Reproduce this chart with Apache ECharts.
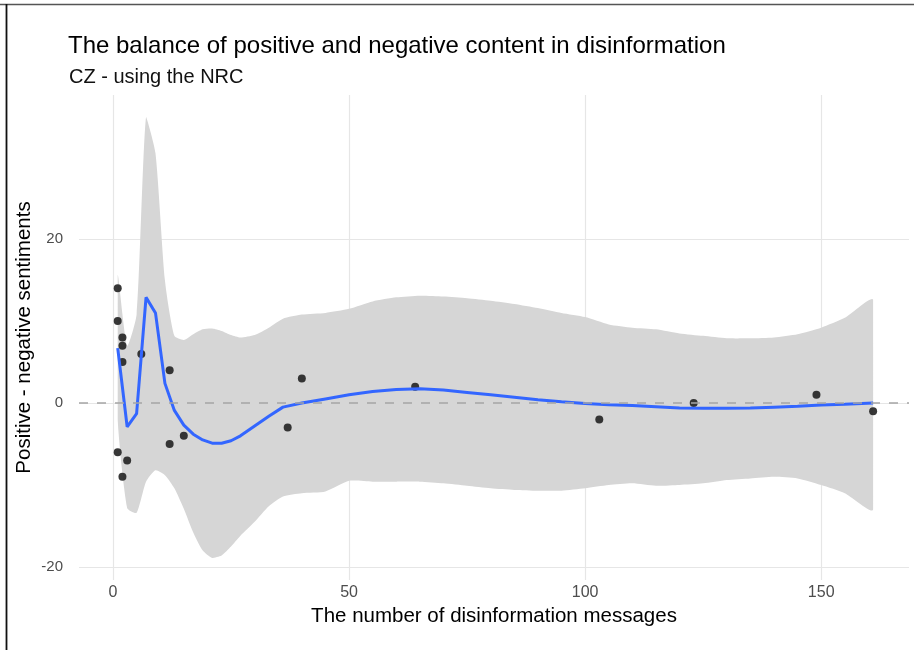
<!DOCTYPE html>
<html>
<head>
<meta charset="utf-8">
<script src="https://cdn.jsdelivr.net/npm/echarts@6/dist/echarts.min.js"></script>
<style>
  html, body { margin: 0; padding: 0; background: #fff; }
  #chart { width: 914px; height: 650px; }
</style>
</head>
<body>
<div id="chart"></div>
<script>
// observed messages: count vs positive - negative score
const pointsX = [1, 1, 2, 2, 2, 1, 3, 2, 6, 12, 12, 15, 37, 40, 64, 103, 123, 149, 161]
const pointsY = [14, 10, 8, 7, 5, -6, -7, -9, 6, 4, -5, -4, -3, 3, 2, -2, 0, 1, -1]

// loess fit and its band
const fitX = [1, 3, 5, 7, 9, 11, 13, 15, 17, 19, 21, 23, 25, 27, 30, 33, 36, 40, 45, 50,
  55, 60, 65, 70, 75, 80, 85, 90, 95, 100, 105, 110, 115, 120, 125, 130, 135, 140, 145, 150, 155, 161]
const fitY = [6.7, -2.9, -1.3, 12.9, 11.0, 2.4, -0.9, -2.7, -3.8, -4.5, -4.9, -4.9, -4.6, -4.0, -2.8, -1.6, -0.5, 0.0, 0.5, 1.0,
  1.4, 1.65, 1.75, 1.6, 1.3, 1.0, 0.7, 0.4, 0.15, -0.05, -0.2, -0.3, -0.45, -0.6, -0.65, -0.65, -0.6, -0.5, -0.4, -0.25, -0.15, 0.0]
const fitUpper = [15.6, 7.0, 10.8, 34.9, 30.5, 15.0, 8.2, 7.7, 8.4, 9.0, 9.1, 8.8, 8.3, 8.0, 8.3, 9.2, 10.3, 10.8, 11.0, 11.5,
  12.4, 12.9, 13.1, 13.0, 12.8, 12.5, 12.1, 11.6, 11.0, 10.5, 9.6, 9.2, 9.0, 8.5, 8.2, 7.9, 7.9, 8.0, 8.4, 9.2, 10.4, 12.6]
const fitLower = [-2.0, -12.8, -13.4, -9.6, -8.2, -8.8, -10.4, -12.9, -15.8, -18.0, -18.9, -18.6, -17.5, -16.2, -14.5, -12.6, -11.4, -11.0, -10.8, -9.5,
  -9.6, -9.6, -9.6, -9.8, -10.1, -10.4, -10.6, -10.7, -10.7, -10.4, -10.0, -9.8, -10.1, -10.0, -9.8, -9.4, -9.2, -9.0, -9.2, -10.0, -11.0, -13.0]

const xTicks = [0, 50, 100, 150]
const yTicks = [-20, 0, 20]

const chart = echarts.init(document.getElementById('chart'))

const gridColor = '#e6e6e6'
const tickColor = '#4d4d4d'

chart.setOption({
  animation: false,
  backgroundColor: '#fff',
  title: [
    {
      text: 'The balance of positive and negative content in disinformation',
      left: 63,
      top: 29,
      textStyle: { fontFamily: 'Liberation Sans', fontSize: 24, fontWeight: 'normal', color: '#000' },
    },
    {
      text: 'CZ - using the NRC',
      left: 64,
      top: 62,
      textStyle: { fontFamily: 'Liberation Sans', fontSize: 20, fontWeight: 'normal', color: '#111' },
    },
  ],
  grid: { left: 79, right: 5, top: 95, bottom: 70 },
  xAxis: {
    type: 'value',
    min: -7.2,
    max: 168.6,
    name: 'The number of disinformation messages',
    nameLocation: 'middle',
    nameGap: 25,
    nameTextStyle: { fontFamily: 'Liberation Sans', fontSize: 20.5, color: '#000' },
    axisLine: { show: false },
    axisTick: { show: false, customValues: xTicks },
    axisLabel: { customValues: xTicks, margin: 5, fontFamily: 'Liberation Sans', fontSize: 16, color: tickColor },
    splitLine: { show: true, lineStyle: { color: gridColor, width: 1.2 } },
  },
  yAxis: {
    type: 'value',
    min: -21.6,
    max: 37.6,
    name: 'Positive - negative sentiments',
    nameLocation: 'middle',
    nameGap: 44,
    nameMoveOverlap: false,
    nameTextStyle: { fontFamily: 'Liberation Sans', fontSize: 20.5, color: '#000' },
    axisLine: { show: false },
    axisTick: { show: false, customValues: yTicks },
    axisLabel: { customValues: yTicks, margin: 16, fontFamily: 'Liberation Sans', fontSize: 15, color: tickColor },
    splitLine: { show: true, lineStyle: { color: gridColor, width: 1.2 } },
  },
  graphic: [
    { type: 'line', shape: { x1: 0, y1: 4.5, x2: 914, y2: 4.5 }, style: { stroke: '#555', lineWidth: 1.5 }, silent: true },
    { type: 'line', shape: { x1: 6.5, y1: 4, x2: 6.5, y2: 650 }, style: { stroke: '#111', lineWidth: 1.8 }, silent: true },
  ],
  series: [
    {
      name: 'band',
      type: 'custom',
      z: 1,
      silent: true,
      data: fitX.map((x, i) => [x, fitLower[i], fitUpper[i]]),
      encode: { x: 0, y: [1, 2] },
      renderItem(params, api) {
        if (params.dataIndex !== 0) return null
        const top = fitX.map((x, i) => api.coord([x, fitUpper[i]]))
        const bottom = fitX.map((x, i) => api.coord([x, fitLower[i]])).reverse()
        const pts = top.concat(bottom)
        const xs = pts.map(p => p[0])
        const ys = pts.map(p => p[1])
        const box = [[Math.min(...xs), Math.min(...ys)], [Math.max(...xs), Math.max(...ys)]]
        return {
          type: 'polygon',
          shape: { points: pts, smooth: 0.2, smoothConstraint: box },
          style: { fill: '#d6d6d6' },
        }
      },
    },
    {
      name: 'zero',
      type: 'line',
      z: 2,
      data: [],
      markLine: {
        silent: true,
        symbol: 'none',
        label: { show: false },
        lineStyle: { color: '#a5a5a5', type: [9, 9], width: 1.5 },
        data: [{ yAxis: 0 }],
      },
    },
    {
      name: 'points',
      type: 'scatter',
      z: 3,
      symbolSize: 8,
      itemStyle: { color: '#262626', opacity: 0.92 },
      data: pointsX.map((x, i) => [x, pointsY[i]]),
    },
    {
      name: 'fit',
      type: 'line',
      z: 4,
      showSymbol: false,
      lineStyle: { color: '#3366ff', width: 3 },
      data: fitX.map((x, i) => [x, fitY[i]]),
    },
  ],
})
</script>
</body>
</html>
